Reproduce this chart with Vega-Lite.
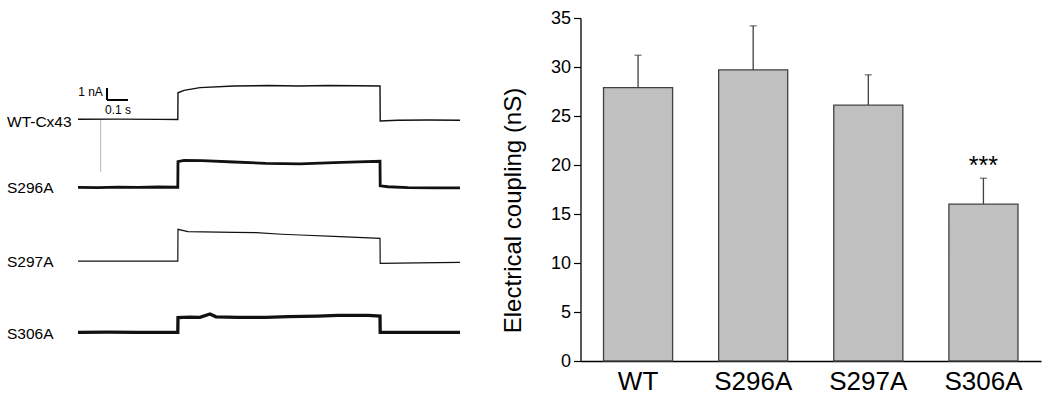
{
  "$schema": "https://vega.github.io/schema/vega-lite/v6.json",
  "background": "white",
  "padding": {"left": 0, "top": 9, "right": 5, "bottom": 5},
  "bounds": "flush",
  "spacing": 110.5,
  "config": {"view": {"stroke": null}, "font": "Liberation Sans", "text": {"font": "Liberation Sans"}},
  "datasets": {
    "traces": [
      {"trace": "WT", "i": 0, "t": -0.5, "I": 20.14},
      {"trace": "WT", "i": 1, "t": -0.3, "I": 20.15},
      {"trace": "WT", "i": 2, "t": -0.1, "I": 20.13},
      {"trace": "WT", "i": 3, "t": -0.001, "I": 20.12},
      {"trace": "WT", "i": 4, "t": 0, "I": 22.35},
      {"trace": "WT", "i": 5, "t": 0.03, "I": 22.55},
      {"trace": "WT", "i": 6, "t": 0.11, "I": 22.78},
      {"trace": "WT", "i": 7, "t": 0.28, "I": 22.92},
      {"trace": "WT", "i": 8, "t": 0.45, "I": 22.95},
      {"trace": "WT", "i": 9, "t": 0.6, "I": 22.92},
      {"trace": "WT", "i": 10, "t": 0.75, "I": 22.96},
      {"trace": "WT", "i": 11, "t": 0.9, "I": 22.93},
      {"trace": "WT", "i": 12, "t": 1.01, "I": 22.92},
      {"trace": "WT", "i": 13, "t": 1.011, "I": 20.0},
      {"trace": "WT", "i": 14, "t": 1.1, "I": 20.06},
      {"trace": "WT", "i": 15, "t": 1.25, "I": 20.08},
      {"trace": "WT", "i": 16, "t": 1.41, "I": 20.06},
      {"trace": "S296A", "i": 0, "t": -0.5, "I": 14.47},
      {"trace": "S296A", "i": 1, "t": -0.4, "I": 14.45},
      {"trace": "S296A", "i": 2, "t": -0.3, "I": 14.49},
      {"trace": "S296A", "i": 3, "t": -0.2, "I": 14.46},
      {"trace": "S296A", "i": 4, "t": -0.1, "I": 14.5},
      {"trace": "S296A", "i": 5, "t": -0.001, "I": 14.48},
      {"trace": "S296A", "i": 6, "t": 0, "I": 16.62},
      {"trace": "S296A", "i": 7, "t": 0.03, "I": 16.72},
      {"trace": "S296A", "i": 8, "t": 0.12, "I": 16.69},
      {"trace": "S296A", "i": 9, "t": 0.28, "I": 16.58},
      {"trace": "S296A", "i": 10, "t": 0.44, "I": 16.47},
      {"trace": "S296A", "i": 11, "t": 0.61, "I": 16.42},
      {"trace": "S296A", "i": 12, "t": 0.78, "I": 16.53},
      {"trace": "S296A", "i": 13, "t": 0.9, "I": 16.6},
      {"trace": "S296A", "i": 14, "t": 1.01, "I": 16.64},
      {"trace": "S296A", "i": 15, "t": 1.011, "I": 14.6},
      {"trace": "S296A", "i": 16, "t": 1.05, "I": 14.52},
      {"trace": "S296A", "i": 17, "t": 1.15, "I": 14.44},
      {"trace": "S296A", "i": 18, "t": 1.3, "I": 14.43},
      {"trace": "S296A", "i": 19, "t": 1.41, "I": 14.42},
      {"trace": "S297A", "i": 0, "t": -0.5, "I": 8.33},
      {"trace": "S297A", "i": 1, "t": -0.2, "I": 8.33},
      {"trace": "S297A", "i": 2, "t": -0.001, "I": 8.33},
      {"trace": "S297A", "i": 3, "t": 0, "I": 10.97},
      {"trace": "S297A", "i": 4, "t": 0.05, "I": 10.78},
      {"trace": "S297A", "i": 5, "t": 0.28, "I": 10.72},
      {"trace": "S297A", "i": 6, "t": 0.39, "I": 10.69},
      {"trace": "S297A", "i": 7, "t": 0.52, "I": 10.56},
      {"trace": "S297A", "i": 8, "t": 0.61, "I": 10.5},
      {"trace": "S297A", "i": 9, "t": 0.78, "I": 10.39},
      {"trace": "S297A", "i": 10, "t": 1.01, "I": 10.22},
      {"trace": "S297A", "i": 11, "t": 1.011, "I": 8.14},
      {"trace": "S297A", "i": 12, "t": 1.2, "I": 8.18},
      {"trace": "S297A", "i": 13, "t": 1.41, "I": 8.22},
      {"trace": "S306A", "i": 0, "t": -0.5, "I": 2.39},
      {"trace": "S306A", "i": 1, "t": -0.35, "I": 2.4},
      {"trace": "S306A", "i": 2, "t": -0.2, "I": 2.38},
      {"trace": "S306A", "i": 3, "t": -0.001, "I": 2.39},
      {"trace": "S306A", "i": 4, "t": 0, "I": 3.62},
      {"trace": "S306A", "i": 5, "t": 0.06, "I": 3.66},
      {"trace": "S306A", "i": 6, "t": 0.11, "I": 3.64},
      {"trace": "S306A", "i": 7, "t": 0.16, "I": 3.92},
      {"trace": "S306A", "i": 8, "t": 0.19, "I": 3.68},
      {"trace": "S306A", "i": 9, "t": 0.3, "I": 3.64},
      {"trace": "S306A", "i": 10, "t": 0.44, "I": 3.63},
      {"trace": "S306A", "i": 11, "t": 0.55, "I": 3.69},
      {"trace": "S306A", "i": 12, "t": 0.7, "I": 3.74},
      {"trace": "S306A", "i": 13, "t": 0.8, "I": 3.8},
      {"trace": "S306A", "i": 14, "t": 0.95, "I": 3.8},
      {"trace": "S306A", "i": 15, "t": 1.01, "I": 3.75},
      {"trace": "S306A", "i": 16, "t": 1.011, "I": 2.39},
      {"trace": "S306A", "i": 17, "t": 1.2, "I": 2.38},
      {"trace": "S306A", "i": 18, "t": 1.41, "I": 2.39}
    ],
    "labels": [
      {"label": "WT-Cx43", "t": -0.855, "I": 19.94},
      {"label": "S296A", "t": -0.855, "I": 14.39},
      {"label": "S297A", "t": -0.855, "I": 8.27},
      {"label": "S306A", "t": -0.855, "I": 2.22}
    ],
    "scalebar": [
      {"x1": -0.355, "x2": -0.355, "y1": 22.75, "y2": 21.75},
      {"x1": -0.355, "x2": -0.25, "y1": 21.75, "y2": 21.75}
    ],
    "scaletext": [
      {"label": "1 nA", "t": -0.4375, "I": 22.45},
      {"label": "0.1 s", "t": -0.3, "I": 20.9}
    ],
    "artefact": [
      {"t": -0.3865, "I": 20.14, "I2": 15.75}
    ],
    "bars": [
      {"group": "WT", "value": 27.9, "upper": 31.2, "sig": ""},
      {"group": "S296A", "value": 29.7, "upper": 34.2, "sig": ""},
      {"group": "S297A", "value": 26.1, "upper": 29.2, "sig": ""},
      {"group": "S306A", "value": 16.0, "upper": 18.65, "sig": "***"}
    ]
  },
  "hconcat": [
    {
      "width": 470,
      "height": 343,
      "layer": [
        {
          "data": {"name": "artefact"},
          "mark": {"type": "rule", "color": "#b8b8b8", "strokeWidth": 1},
          "encoding": {
            "x": {"field": "t", "type": "quantitative", "scale": {"domain": [-0.89, 1.46], "nice": false, "zero": false}, "axis": null},
            "y": {"field": "I", "type": "quantitative", "scale": {"domain": [0, 28.58], "nice": false, "zero": false}, "axis": null},
            "y2": {"field": "I2"}
          }
        },
        {
          "data": {"name": "traces"},
          "transform": [{"filter": "datum.trace === 'WT'"}],
          "mark": {"type": "line", "color": "#111111", "strokeWidth": 1.4},
          "encoding": {
            "x": {"field": "t", "type": "quantitative"},
            "y": {"field": "I", "type": "quantitative"},
            "order": {"field": "i"}
          }
        },
        {
          "data": {"name": "traces"},
          "transform": [{"filter": "datum.trace === 'S296A'"}],
          "mark": {"type": "line", "color": "#111111", "strokeWidth": 2.8},
          "encoding": {
            "x": {"field": "t", "type": "quantitative"},
            "y": {"field": "I", "type": "quantitative"},
            "order": {"field": "i"}
          }
        },
        {
          "data": {"name": "traces"},
          "transform": [{"filter": "datum.trace === 'S297A'"}],
          "mark": {"type": "line", "color": "#111111", "strokeWidth": 1.2},
          "encoding": {
            "x": {"field": "t", "type": "quantitative"},
            "y": {"field": "I", "type": "quantitative"},
            "order": {"field": "i"}
          }
        },
        {
          "data": {"name": "traces"},
          "transform": [{"filter": "datum.trace === 'S306A'"}],
          "mark": {"type": "line", "color": "#111111", "strokeWidth": 3.3},
          "encoding": {
            "x": {"field": "t", "type": "quantitative"},
            "y": {"field": "I", "type": "quantitative"},
            "order": {"field": "i"}
          }
        },
        {
          "data": {"name": "scalebar"},
          "mark": {"type": "rule", "color": "black", "strokeWidth": 2},
          "encoding": {
            "x": {"field": "x1", "type": "quantitative"},
            "x2": {"field": "x2"},
            "y": {"field": "y1", "type": "quantitative"},
            "y2": {"field": "y2"}
          }
        },
        {
          "data": {"name": "scaletext"},
          "mark": {"type": "text", "fontSize": 12, "align": "center", "baseline": "middle", "color": "black"},
          "encoding": {
            "x": {"field": "t", "type": "quantitative"},
            "y": {"field": "I", "type": "quantitative"},
            "text": {"field": "label"}
          }
        },
        {
          "data": {"name": "labels"},
          "mark": {"type": "text", "fontSize": 15.5, "align": "left", "baseline": "middle", "color": "black"},
          "encoding": {
            "x": {"field": "t", "type": "quantitative"},
            "y": {"field": "I", "type": "quantitative"},
            "text": {"field": "label"}
          }
        }
      ]
    },
    {
      "width": 460.5,
      "height": 343,
      "data": {"name": "bars"},
      "encoding": {
        "x": {
          "field": "group", "type": "nominal", "sort": null,
          "scale": {"paddingInner": 0.4, "paddingOuter": 0.2},
          "axis": {"title": null, "ticks": false, "labelAngle": 0, "labelFontSize": 26, "labelColor": "black", "labelPadding": 7, "domainColor": "black", "domainWidth": 1.3}
        }
      },
      "layer": [
        {
          "mark": {"type": "bar", "fill": "#c0c0c0", "stroke": "#404040", "strokeWidth": 1.3},
          "encoding": {
            "y": {
              "field": "value", "type": "quantitative",
              "scale": {"domain": [0, 35], "nice": false},
              "axis": {
                "title": "Electrical coupling (nS)", "titleFontSize": 24, "titleFontWeight": "normal", "titleColor": "black",
                "titlePadding": 25, "titleY": 192,
                "values": [0, 2.5, 5, 7.5, 10, 12.5, 15, 17.5, 20, 22.5, 25, 27.5, 30, 32.5, 35],
                "format": "~g",
                "labelExpr": "datum.value % 5 === 0 ? datum.label : ''",
                "tickSize": {"condition": {"test": "datum.value % 5 !== 0", "value": 4}, "value": 7},
                "labelFontSize": 18, "labelColor": "black", "labelPadding": 3,
                "domainColor": "black", "tickColor": "black", "grid": false, "domainWidth": 1.3, "tickWidth": 1.2
              }
            }
          }
        },
        {
          "mark": {"type": "rule", "color": "#404040", "strokeWidth": 1.3},
          "encoding": {
            "y": {"field": "value", "type": "quantitative"},
            "y2": {"field": "upper"}
          }
        },
        {
          "mark": {"type": "tick", "color": "#404040", "size": 7, "thickness": 1.3, "orient": "horizontal"},
          "encoding": {
            "y": {"field": "upper", "type": "quantitative"}
          }
        },
        {
          "transform": [{"filter": "datum.sig !== ''"}],
          "mark": {"type": "text", "fontSize": 25, "baseline": "alphabetic", "align": "center", "dy": -4, "color": "black"},
          "encoding": {
            "y": {"field": "upper", "type": "quantitative"},
            "text": {"field": "sig"}
          }
        }
      ]
    }
  ]
}
